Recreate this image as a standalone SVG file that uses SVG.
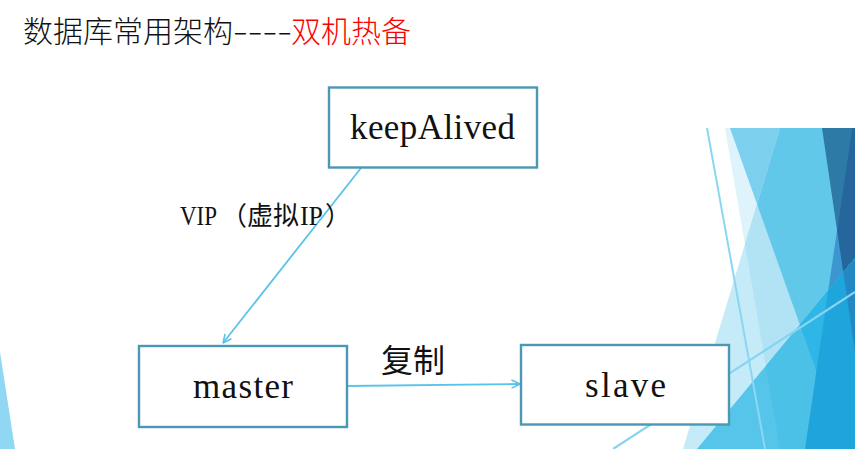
<svg xmlns="http://www.w3.org/2000/svg" width="855" height="449" viewBox="0 0 855 449">
<style>
.box{fill:#fff;stroke:#4a98b3;stroke-width:2.4}
.lbl{font-family:"Liberation Serif",serif;font-size:35px;fill:#111}
.cjk{font-family:"Noto Sans CJK SC",sans-serif}
.conn{fill:none;stroke:#5bc2ea;stroke-width:1.8}
</style>
<defs>
<marker id="arr" viewBox="0 0 10 10" refX="9.5" refY="5" markerWidth="10" markerHeight="10" orient="auto" markerUnits="userSpaceOnUse">
<path d="M1,1 L9.5,5 L1,9" fill="none" stroke="#5bc2ea" stroke-width="1.6"/>
</marker>
<clipPath id="cT"><polygon points="780,128 855,128 855,449 683,449"/></clipPath>
<clipPath id="cS1"><polygon points="822,128 855,128 855,352"/></clipPath>
<clipPath id="cK"><polygon points="697,449 855,258 855,449"/></clipPath>
<clipPath id="cKS2"><polygon points="852,128 855,128 855,449 805,449"/></clipPath>
</defs>
<rect width="855" height="449" fill="#fff"/>
<g id="decoration">
<polygon points="0,352 15,449 0,449" fill="#8fd7f2"/>
<polygon points="725,128 855,128 855,449 780,449" fill="#def3fb"/>
<polygon points="730,128 855,128 855,449 844,449" fill="#7dcfee"/>
<polygon points="780,128 855,128 855,449 683,449" fill="#c5eaf8"/>
<g clip-path="url(#cT)">
<polygon points="725,128 855,128 855,449 780,449" fill="#b2e3f5"/>
<polygon points="730,128 855,128 855,449 844,449" fill="#62c8ea"/>
</g>
<polygon points="822,128 855,128 855,352" fill="#2e7aa7"/>
<polygon points="852,128 855,128 855,449 805,449" fill="#3c96cf"/>
<g clip-path="url(#cS1)"><polygon points="852,128 855,128 855,449 805,449" fill="#25669d"/></g>
<g clip-path="url(#cK)">
<polygon points="683,258 855,258 855,449 683,449" fill="#56c5ea"/>
<polygon points="725,128 855,128 855,449 780,449" fill="#4cc1e8"/>
<polygon points="730,128 855,128 855,449 844,449" fill="#2db6e6"/>
<polygon points="852,128 855,128 855,449 805,449" fill="#1fa5db"/>
<g clip-path="url(#cKS2)"><polygon points="822,128 855,128 855,352" fill="#2488c4"/></g>
</g>
<line x1="707" y1="128" x2="765" y2="449" stroke="#8bd7f3" stroke-width="2"/>
<line x1="613" y1="449" x2="855" y2="292" stroke="#86d4f1" stroke-width="2.2"/>
</g>
<g id="title">
<text x="23" y="42" font-size="30" class="cjk" font-weight="300" fill="#111">数据库常用架构<tspan x="233" textLength="59" lengthAdjust="spacingAndGlyphs">----</tspan><tspan x="291" fill="#ff0000">双机热备</tspan></text>
</g>
<g id="connectors">
<line class="conn" x1="361" y1="168" x2="223" y2="343" marker-end="url(#arr)"/>
<line class="conn" x1="347" y1="386" x2="520" y2="384" marker-end="url(#arr)"/>
<text x="381" y="372" font-size="32" class="cjk" fill="#111">复制</text>
<text y="225" fill="#111"><tspan x="180" font-family="Liberation Serif" font-size="28" textLength="37" lengthAdjust="spacingAndGlyphs">VIP</tspan><tspan x="221" class="cjk" font-size="26">（虚拟</tspan><tspan x="300" font-family="Liberation Serif" font-size="28" textLength="23" lengthAdjust="spacingAndGlyphs">IP</tspan><tspan x="325" class="cjk" font-size="26">）</tspan></text>
</g>
<g id="keepAlived">
<rect class="box" x="329" y="87.5" width="208" height="80"/>
<text class="lbl" x="350" y="139" textLength="165" lengthAdjust="spacing">keepAlived</text>
</g>
<g id="master">
<rect class="box" x="139" y="346" width="208" height="81"/>
<text class="lbl" x="193" y="398" textLength="100" lengthAdjust="spacing">master</text>
</g>
<g id="slave">
<rect class="box" x="521" y="345" width="208" height="79.5"/>
<text class="lbl" x="585" y="397" textLength="81" lengthAdjust="spacing">slave</text>
</g>
</svg>
